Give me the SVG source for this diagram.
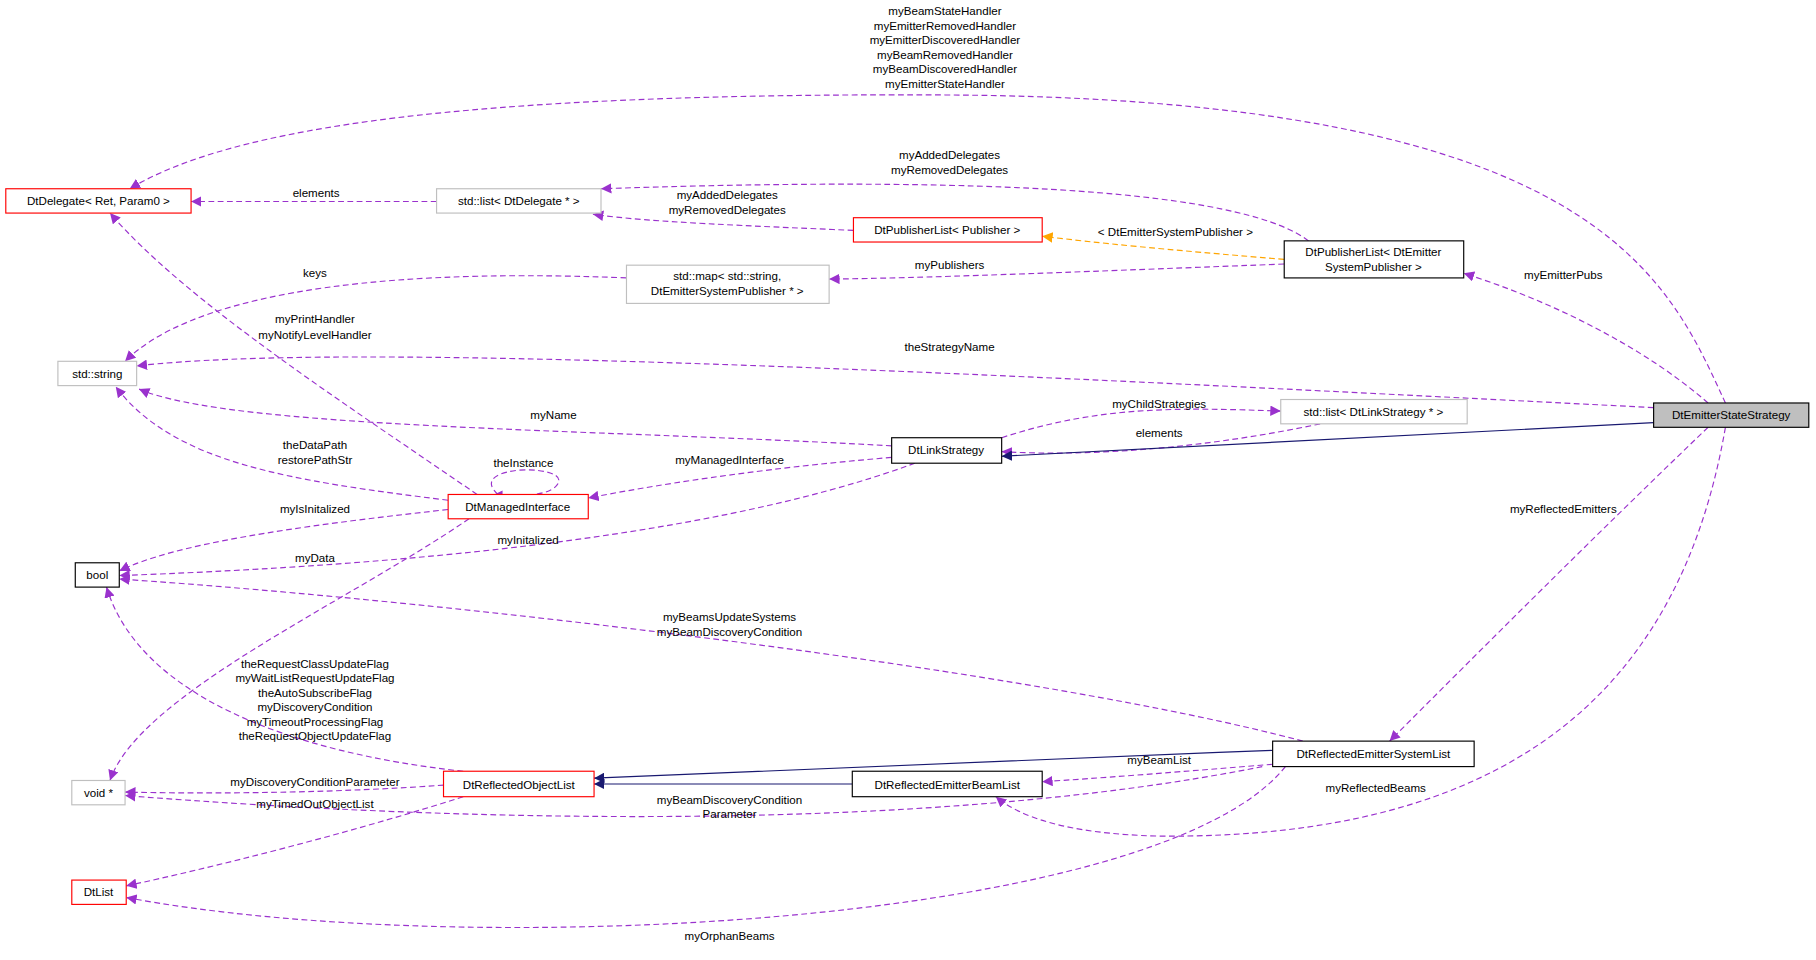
<svg xmlns="http://www.w3.org/2000/svg" width="1816" height="960" viewBox="0 0 1816 960">
<defs>
<marker id="ap" viewBox="0 0 10 10" refX="10" refY="5" markerWidth="9" markerHeight="9" markerUnits="userSpaceOnUse" orient="auto"><path d="M0,0L10,5L0,10z" fill="#9a32cd"/></marker>
<marker id="ao" viewBox="0 0 10 10" refX="10" refY="5" markerWidth="9" markerHeight="9" markerUnits="userSpaceOnUse" orient="auto"><path d="M0,0L10,5L0,10z" fill="#ffa500"/></marker>
<marker id="an" viewBox="0 0 10 10" refX="10" refY="5" markerWidth="9" markerHeight="9" markerUnits="userSpaceOnUse" orient="auto"><path d="M0,0L10,5L0,10z" fill="#191970"/></marker>
</defs>
<style>
text{font-family:"Liberation Sans",Arial,sans-serif;font-size:10px;fill:#000}
.n text,.l{text-anchor:middle}
.n rect{fill:#fff;stroke-width:1}
.k rect{stroke:#000}.r rect{stroke:#ff0000}.g rect{stroke:#bfbfbf}
.e path{fill:none;stroke:#9a32cd;stroke-dasharray:5,3;marker-end:url(#ap)}
.e path.o{stroke:#ffa500;marker-end:url(#ao)}
.e path.s{stroke:#191970;stroke-dasharray:none;marker-end:url(#an)}
</style>
<rect width="1816" height="960" fill="#fff"/>
<g transform="scale(1.158)">
<g id="edges" class="e">
<path d="M1490,348C1440,240 1380,85 816,82C400,80 200,110 112,163"/>
<path d="M1130,208C1080,170 900,150 519,163"/>
<path d="M737,199C650,195 560,192 512,185"/>
<path d="M377,174L165,174"/>
<path class="o" d="M1109,224C1000,215 950,210 900,204"/>
<path d="M1109,228C900,236 800,240 716,241"/>
<path d="M1475,348C1420,300 1340,260 1264,236"/>
<path d="M541,240C300,230 160,260 108,312"/>
<path d="M1428,352C800,320 300,295 118,316"/>
<path d="M412,427C300,350 160,260 95,184"/>
<path d="M770,385C500,370 200,370 120,336"/>
<path d="M387,432C250,415 150,400 100,334"/>
<path d="M430,427C400,400 500,400 480,420C470,430 440,428 425,428"/>
<path d="M770,395C650,405 560,420 508,430"/>
<path d="M865,378C950,350 1020,352 1106,355"/>
<path d="M1140,366C1050,385 950,395 865,390"/>
<path class="s" d="M1428,365L865,394"/>
<path d="M387,440C250,455 150,470 103,493"/>
<path d="M790,400C600,470 300,490 103,497"/>
<path d="M1125,640C900,580 400,520 103,500"/>
<path d="M400,666C250,650 120,600 92,507"/>
<path d="M405,448C300,520 120,600 95,674"/>
<path d="M383,678C300,684 200,686 108,684"/>
<path d="M1090,662C800,720 400,710 108,687"/>
<path d="M400,688C300,720 180,750 109,765"/>
<path d="M1110,662C1000,800 400,830 109,775"/>
<path d="M1475,369C1380,460 1280,560 1200,640"/>
<path d="M1490,369C1450,600 1300,725 1000,722C920,720 880,705 860,688"/>
<path class="s" d="M1099,648C900,655 700,665 513,672"/>
<path class="s" d="M736,677L513,677"/>
<path d="M1099,660C1000,668 950,672 900,675"/>
</g>
<g class="l">
<text x="816" y="13">myBeamStateHandler</text><text x="816" y="26">myEmitterRemovedHandler</text><text x="816" y="38">myEmitterDiscoveredHandler</text><text x="816" y="51">myBeamRemovedHandler</text><text x="816" y="63">myBeamDiscoveredHandler</text><text x="816" y="76">myEmitterStateHandler</text>
<text x="820" y="137">myAddedDelegates</text><text x="820" y="150">myRemovedDelegates</text>
<text x="628" y="172">myAddedDelegates</text><text x="628" y="185">myRemovedDelegates</text>
<text x="273" y="170">elements</text>
<text x="1015" y="204">&lt; DtEmitterSystemPublisher &gt;</text>
<text x="820" y="232">myPublishers</text>
<text x="1350" y="241">myEmitterPubs</text>
<text x="272" y="239">keys</text>
<text x="272" y="279">myPrintHandler</text><text x="272" y="293">myNotifyLevelHandler</text>
<text x="820" y="303">theStrategyName</text>
<text x="478" y="362">myName</text>
<text x="272" y="388">theDataPath</text><text x="272" y="401">restorePathStr</text>
<text x="452" y="403">theInstance</text>
<text x="630" y="401">myManagedInterface</text>
<text x="1001" y="352">myChildStrategies</text>
<text x="1001" y="377">elements</text>
<text x="272" y="443">myIsInitalized</text>
<text x="456" y="470">myInitalized</text>
<text x="272" y="485">myData</text>
<text x="630" y="536">myBeamsUpdateSystems</text><text x="630" y="549">myBeamDiscoveryCondition</text>
<text x="272" y="577">theRequestClassUpdateFlag</text><text x="272" y="589">myWaitListRequestUpdateFlag</text><text x="272" y="602">theAutoSubscribeFlag</text><text x="272" y="614">myDiscoveryCondition</text><text x="272" y="627">myTimeoutProcessingFlag</text><text x="272" y="639">theRequestObjectUpdateFlag</text>
<text x="272" y="679">myDiscoveryConditionParameter</text>
<text x="272" y="698">myTimedOutObjectList</text>
<text x="630" y="694">myBeamDiscoveryCondition</text><text x="630" y="706">Parameter</text>
<text x="630" y="812">myOrphanBeams</text>
<text x="1350" y="443">myReflectedEmitters</text>
<text x="1188" y="684">myReflectedBeams</text>
<text x="1001" y="660">myBeamList</text>
</g>
<g id="n1" class="n k"><rect x="1428" y="348" width="134" height="21" style="fill:#bfbfbf"/><text x="1495" y="362">DtEmitterStateStrategy</text></g>
<g id="n2" class="n r"><rect x="5" y="163" width="160" height="21"/><text x="85" y="177">DtDelegate&lt; Ret, Param0 &gt;</text></g>
<g id="n3" class="n g"><rect x="377" y="163" width="142" height="21"/><text x="448" y="177">std::list&lt; DtDelegate * &gt;</text></g>
<g id="n4" class="n r"><rect x="737" y="188" width="163" height="21"/><text x="818" y="202">DtPublisherList&lt; Publisher &gt;</text></g>
<g id="n5" class="n g"><rect x="541" y="229" width="175" height="33"/><text x="628" y="242">std::map&lt; std::string,</text><text x="628" y="255">DtEmitterSystemPublisher * &gt;</text></g>
<g id="n6" class="n k"><rect x="1109" y="208" width="155" height="32"/><text x="1186" y="221">DtPublisherList&lt; DtEmitter</text><text x="1186" y="234">SystemPublisher &gt;</text></g>
<g id="n7" class="n g"><rect x="50" y="312" width="68" height="21"/><text x="84" y="326">std::string</text></g>
<g id="n8" class="n k"><rect x="770" y="378" width="95" height="22"/><text x="817" y="392">DtLinkStrategy</text></g>
<g id="n9" class="n g"><rect x="1106" y="345" width="161" height="21"/><text x="1186" y="359">std::list&lt; DtLinkStrategy * &gt;</text></g>
<g id="n10" class="n r"><rect x="387" y="427" width="121" height="21"/><text x="447" y="441">DtManagedInterface</text></g>
<g id="n11" class="n k"><rect x="65" y="486" width="38" height="21"/><text x="84" y="500">bool</text></g>
<g id="n12" class="n k"><rect x="1099" y="640" width="174" height="22"/><text x="1186" y="655">DtReflectedEmitterSystemList</text></g>
<g id="n13" class="n k"><rect x="736" y="666" width="164" height="22"/><text x="818" y="681">DtReflectedEmitterBeamList</text></g>
<g id="n14" class="n r"><rect x="383" y="666" width="130" height="22"/><text x="448" y="681">DtReflectedObjectList</text></g>
<g id="n15" class="n g"><rect x="62" y="674" width="46" height="21"/><text x="85" y="688">void *</text></g>
<g id="n16" class="n r"><rect x="62" y="760" width="47" height="21"/><text x="85" y="774">DtList</text></g>
</g>
</svg>
